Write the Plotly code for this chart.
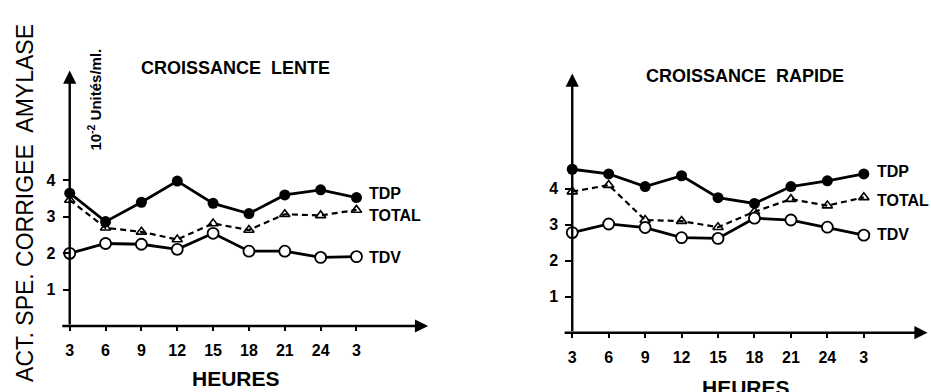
import plotly.graph_objects as go

hours = ["3", "6", "9", "12", "15", "18", "21", "24", "3"]
y_ticks = [1, 2, 3, 4]

lente_tdp = [3.64, 2.86, 3.39, 3.97, 3.36, 3.08, 3.59, 3.73, 3.52]
lente_total = [3.45, 2.69, 2.58, 2.37, 2.81, 2.63, 3.06, 3.03, 3.18]
lente_tdv = [1.99, 2.26, 2.24, 2.10, 2.54, 2.05, 2.05, 1.88, 1.90]

rapide_tdp = [4.54, 4.41, 4.06, 4.36, 3.75, 3.59, 4.06, 4.22, 4.41]
rapide_total = [3.92, 4.10, 3.13, 3.10, 2.93, 3.36, 3.71, 3.53, 3.76]
rapide_tdv = [2.78, 3.02, 2.92, 2.64, 2.62, 3.18, 3.13, 2.93, 2.71]

W, H = 931, 392
FONT = "Liberation Sans"
idx = list(range(len(hours)))

def px(x):
    return x / W

def py(y):
    return 1 - y / H

fig = go.Figure()

def add_panel(tdp, total, tdv, xa, ya):
    fig.add_trace(go.Scatter(x=idx, y=total, mode="lines+markers", xaxis=xa, yaxis=ya,
                             line=dict(color="black", width=2.2, dash="6px,4px"),
                             marker=dict(symbol="triangle-up-open", size=9, color="black",
                                         line=dict(width=1.6)),
                             cliponaxis=False, showlegend=False))
    fig.add_trace(go.Scatter(x=idx, y=tdv, mode="lines+markers", xaxis=xa, yaxis=ya,
                             line=dict(color="black", width=2.8),
                             marker=dict(symbol="circle", size=11, color="white",
                                         line=dict(width=1.8, color="black")),
                             cliponaxis=False, showlegend=False))
    fig.add_trace(go.Scatter(x=idx, y=tdp, mode="lines+markers", xaxis=xa, yaxis=ya,
                             line=dict(color="black", width=2.8),
                             marker=dict(symbol="circle", size=11, color="black"),
                             cliponaxis=False, showlegend=False))

add_panel(lente_tdp, lente_total, lente_tdv, "x", "y")
add_panel(rapide_tdp, rapide_total, rapide_tdv, "x2", "y2")

tickfont = dict(family=FONT, size=16, color="black", weight="bold")
xcommon = dict(tickvals=idx, ticktext=hours, showgrid=False, zeroline=False, showline=False,
               ticks="outside", ticklen=4, tickwidth=2, tickcolor="black", tickfont=tickfont,
               ticklabelstandoff=6, fixedrange=True)
ycommon = dict(tickvals=y_ticks, ticktext=[str(v) for v in y_ticks], showgrid=False,
               zeroline=False, showline=False, ticks="outside", ticklen=6, tickwidth=2,
               tickcolor="black", tickfont=tickfont, ticklabelstandoff=4, fixedrange=True)

fig.update_layout(
    width=W, height=H, margin=dict(l=0, r=0, t=0, b=0),
    paper_bgcolor="white", plot_bgcolor="white",
    xaxis=dict(domain=[px(66), px(436.8)], range=[0, 10.3], anchor="y", **xcommon),
    yaxis=dict(domain=[py(326), py(59.55)], range=[0, 7.3], anchor="x", **ycommon),
    xaxis2=dict(domain=[px(570.7), px(929.4)], range=[0, 9.8], anchor="y2", **xcommon),
    yaxis2=dict(domain=[py(332.7), py(69.9)], range=[0, 7.3], anchor="x2", **ycommon),
)

ann = []
# axis arrows
for xr, yr, xend, yend in [("x", "y", 10.0, 7.0), ("x2", "y2", 9.75, 7.2)]:
    ann.append(dict(x=0, y=yend, ax=0, ay=0, xref=xr, yref=yr, axref=xr, ayref=yr, text="",
                    showarrow=True, arrowhead=2, arrowsize=1.1, arrowwidth=2.4, arrowcolor="black"))
    ann.append(dict(x=xend, y=0, ax=-0.25, ay=0, xref=xr, yref=yr, axref=xr, ayref=yr, text="",
                    showarrow=True, arrowhead=2, arrowsize=1.1, arrowwidth=2.4, arrowcolor="black"))

def label(text, x, y, size, xanchor="left", angle=0):
    ann.append(dict(text=text, x=px(x), y=py(y), xref="paper", yref="paper", showarrow=False,
                    xanchor=xanchor, yanchor="middle", textangle=angle,
                    font=dict(family=FONT, size=size, color="black", weight="bold")))

label("CROISSANCE  LENTE", 232, 68, 18, "center")
label("CROISSANCE  RAPIDE", 744, 76, 18, "center")
label("TDP", 365, 193, 16)
label("TOTAL", 365, 215, 16)
label("TDV", 365, 257, 16)
label("TDP", 875, 171, 16)
label("TOTAL", 875, 200, 16)
label("TDV", 875, 234, 16)
label("HEURES", 233, 378, 21, "center")
label("HEURES", 745, 387, 21, "center")
ann.append(dict(text="ACT. SPE. CORRIGEE  AMYLASE", x=px(21), y=py(203), xref="paper", yref="paper",
                showarrow=False, textangle=-90, xanchor="center", yanchor="middle",
                font=dict(family=FONT, size=23, color="black")))
ann.append(dict(text="10<sup>-2</sup> Unités/ml.", x=px(91), y=py(100), xref="paper", yref="paper",
                showarrow=False, textangle=-90, xanchor="center", yanchor="middle",
                font=dict(family=FONT, size=15, color="black", weight="bold")))

fig.update_layout(annotations=ann)
fig.write_html("out.html")
